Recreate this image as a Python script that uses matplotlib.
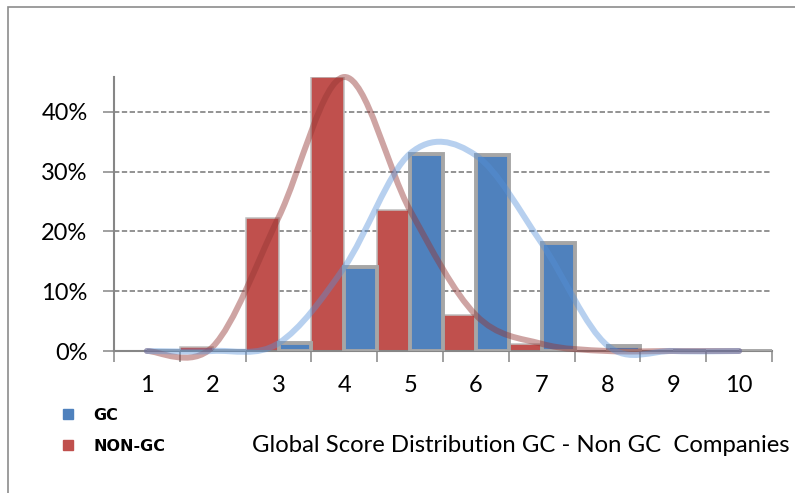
import numpy as np
import matplotlib
matplotlib.use("Agg")
import matplotlib.pyplot as plt
from matplotlib.path import Path
from matplotlib.patches import PathPatch, Rectangle
from matplotlib.lines import Line2D
from matplotlib.ticker import PercentFormatter, NullFormatter

# values (percent of companies per global score)
scores = [1, 2, 3, 4, 5, 6, 7, 8, 9, 10]
gc = [0, 0, 1.3, 14.0, 33.0, 32.7, 18.0, 0.9, 0, 0]
non_gc = [0, 0.7, 22.3, 45.8, 23.5, 6.0, 1.2, 0, 0, 0]
y_ticks = [0, 10, 20, 30, 40]
title = "Global Score Distribution GC - Non GC  Companies"

blue = "#4F81BD"
red = "#C0504D"
grey = "#868686"

plt.rcParams['font.family'] = ['Lato', 'DejaVu Sans']


def smooth_path(x, y):
    # Excel style smoothed line: cubic bezier segments through the points
    pts = np.column_stack([x, y]).astype(float)
    ext = np.vstack([pts[0], pts, pts[-1]])
    verts = [pts[0]]
    codes = [Path.MOVETO]
    for i in range(len(pts) - 1):
        p0, p1, p2, p3 = ext[i], ext[i + 1], ext[i + 2], ext[i + 3]
        verts += [p1 + (p2 - p0) / 6, p2 - (p3 - p1) / 6, p2]
        codes += [Path.CURVE4] * 3
    return Path(verts, codes)


W, H = 795, 493
fig = plt.figure(figsize=(W / 100, H / 100), dpi=100)
ax = fig.add_axes([114 / W, 1 - 351 / H, 658 / W, 274 / H])

x = np.array(scores)
ax.bar(x - 0.25, non_gc, width=0.5, color=red, edgecolor="#bfbfbf",
       linewidth=1.1, zorder=2)
ax.bar(x + 0.25, gc, width=0.5, color=blue, edgecolor="#a6a6a6",
       linewidth=2.8, zorder=3)

ax.add_patch(PathPatch(smooth_path(x, non_gc), fill=False, edgecolor="#943634",
                       alpha=0.45, lw=4.3, capstyle="round", joinstyle="round",
                       zorder=4, clip_on=False))
ax.add_patch(PathPatch(smooth_path(x, gc), fill=False, edgecolor="#5591d9",
                       alpha=0.42, lw=4.3, capstyle="round", joinstyle="round",
                       zorder=5, clip_on=False))

ax.set_xlim(0.5, 10.5)
ax.set_ylim(0, 45.8)

ax.set_yticks(y_ticks)
ax.yaxis.set_major_formatter(PercentFormatter(100, decimals=0))
ax.yaxis.grid(True, color="#808080", lw=1.2, linestyle=(0, (3.2, 1.5)), zorder=1)
ax.set_axisbelow(True)

ax.set_xticks(np.arange(0.5, 11, 1))
ax.xaxis.set_major_formatter(NullFormatter())
ax.set_xticks(scores, minor=True)
ax.set_xticklabels([str(s) for s in scores], minor=True)

ax.tick_params(axis="both", which="major", length=8, width=1.1, color=grey,
               direction="out", labelsize=17)
ax.tick_params(axis="y", pad=11)
ax.tick_params(axis="x", which="minor", length=0, pad=17, labelsize=17)

for side in ["top", "right"]:
    ax.spines[side].set_visible(False)
for side in ["left", "bottom"]:
    ax.spines[side].set_color(grey)
    ax.spines[side].set_linewidth(1.5)

handles = [Line2D([], [], marker="s", linestyle="none", color=blue, markersize=6.5),
           Line2D([], [], marker="s", linestyle="none", color=red, markersize=6.5)]
fig.legend(handles, ["GC", "NON-GC"], loc="upper left",
           bbox_to_anchor=(60 / W, 1 - 408 / H), frameon=False,
           prop={"family": "DejaVu Sans", "weight": "bold", "size": 11.5},
           handlelength=1.0, handletextpad=1.1, labelspacing=1.0,
           borderpad=0, borderaxespad=0)

fig.text(252 / W, 1 - 452 / H, title, fontsize=17.2, va="baseline", ha="left")

fig.add_artist(Rectangle((8 / W, -0.1), 1.0, 1.1 - 7 / H, transform=fig.transFigure,
                         fill=False, edgecolor="#8c8c8c", lw=1.2))

fig.savefig("out.png", dpi=100)
